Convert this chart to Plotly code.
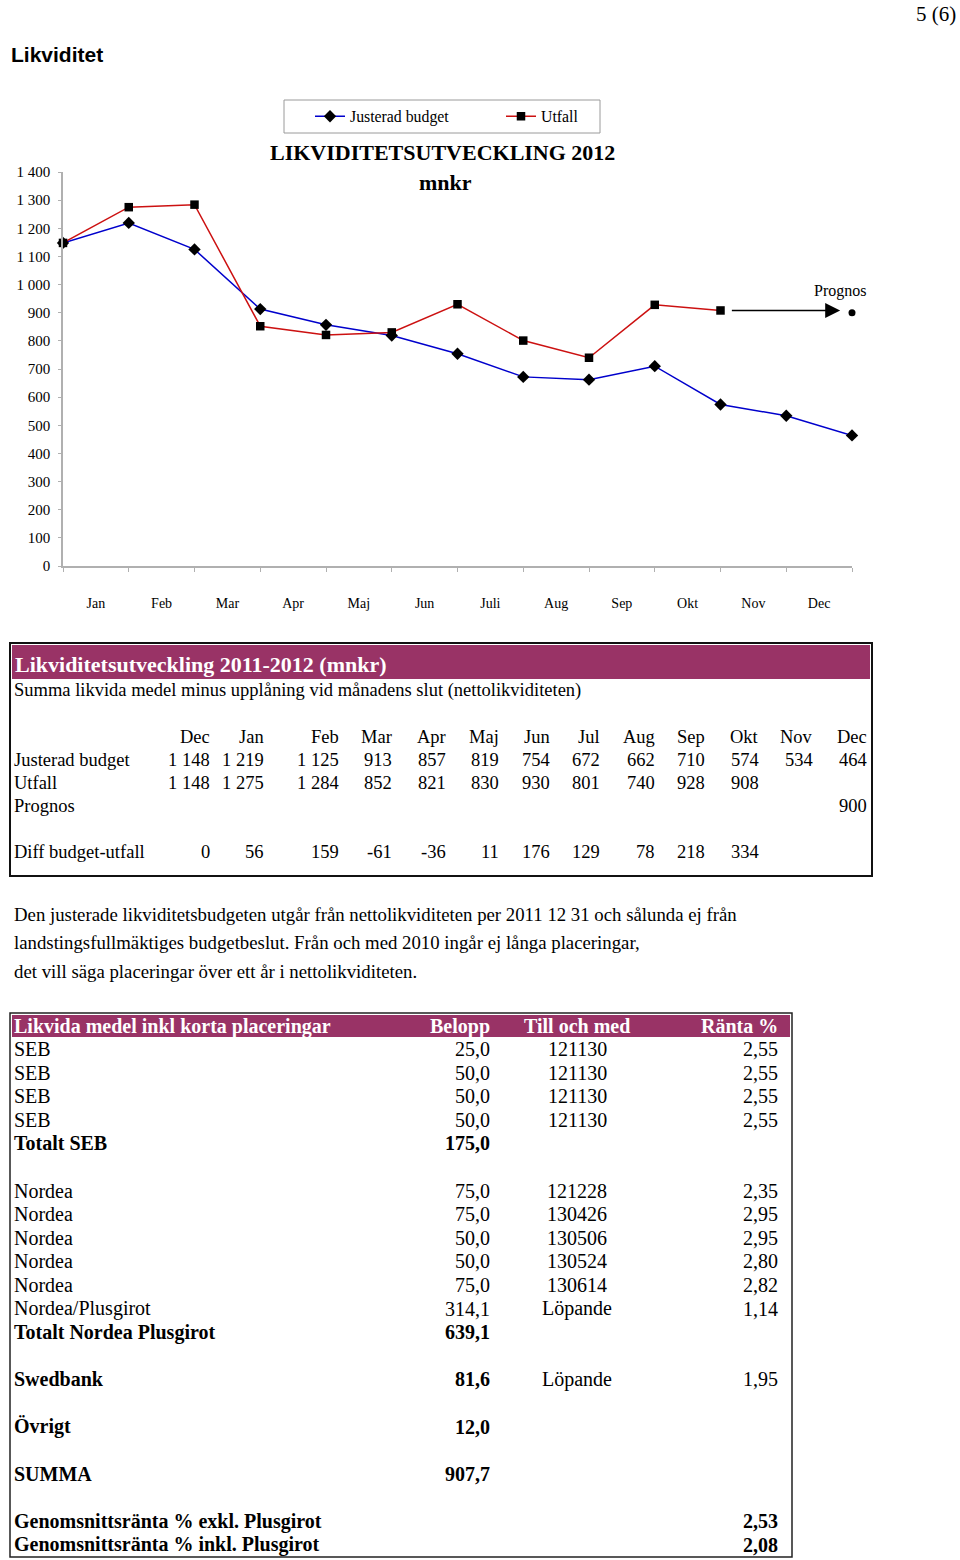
import plotly.graph_objects as go

W, H = 960, 1560
SERIF = "Liberation Serif, Times New Roman, serif"
SANS = "Liberation Sans, Arial, sans-serif"
PURPLE = "#993366"

# ---------------- chart data ----------------
points = list(range(13))  # month-end positions: Dec 2011, Jan .. Dec 2012
month_labels = ["Jan", "Feb", "Mar", "Apr", "Maj", "Jun", "Juli", "Aug", "Sep", "Okt", "Nov", "Dec"]
budget = [1148, 1219, 1125, 913, 857, 819, 754, 672, 662, 710, 574, 534, 464]
utfall = [1148, 1275, 1284, 852, 821, 830, 930, 801, 740, 928, 908]
prognos_index = 12
prognos_value = 900
y_ticks = list(range(0, 1401, 100))

# ---------------- table 1 data ----------------
t1_months = ["Dec", "Jan", "Feb", "Mar", "Apr", "Maj", "Jun", "Jul", "Aug", "Sep", "Okt", "Nov", "Dec"]
t1_budget = [1148, 1219, 1125, 913, 857, 819, 754, 672, 662, 710, 574, 534, 464]
t1_utfall = [1148, 1275, 1284, 852, 821, 830, 930, 801, 740, 928, 908]
t1_prognos = [None] * 12 + [900]
t1_diff = [0, 56, 159, -61, -36, 11, 176, 129, 78, 218, 334]

# ---------------- table 2 data ----------------
t2_names = ["SEB", "SEB", "SEB", "SEB", "Totalt SEB", "",
            "Nordea", "Nordea", "Nordea", "Nordea", "Nordea", "Nordea/Plusgirot", "Totalt Nordea Plusgirot", "",
            "Swedbank", "", "Övrigt", "", "SUMMA", "",
            "Genomsnittsränta % exkl. Plusgirot", "Genomsnittsränta % inkl. Plusgirot"]
t2_belopp = ["25,0", "50,0", "50,0", "50,0", "175,0", "",
             "75,0", "75,0", "50,0", "50,0", "75,0", "314,1", "639,1", "",
             "81,6", "", "12,0", "", "907,7", "", "", ""]
t2_dates = ["121130", "121130", "121130", "121130", "", "",
            "121228", "130426", "130506", "130524", "130614", "Löpande", "", "",
            "Löpande", "", "", "", "", "", "", ""]
t2_rates = ["2,55", "2,55", "2,55", "2,55", "", "",
            "2,35", "2,95", "2,95", "2,80", "2,82", "1,14", "", "",
            "1,95", "", "", "", "", "", "2,53", "2,08"]
t2_bold = [False, False, False, False, True, False,
           False, False, False, False, False, False, True, False,
           True, False, True, False, True, False, True, True]
t2_rate_bold = [False] * 20 + [True, True]


def fmt(v):
    return f"{v:,}".replace(",", " ")


# ---------------- layout helpers (pixel -> paper) ----------------
def px(x):
    return x / W


def py(y):
    return 1 - y / H


annotations = []
shapes = []


def txt(x, y, s, size, anchor="left", bold=False, color="black", family=SERIF):
    annotations.append(dict(
        x=px(x), y=py(y), xref="paper", yref="paper",
        text=f"<b>{s}</b>" if bold else s, showarrow=False,
        xanchor=anchor, yanchor="middle", borderpad=0,
        font=dict(family=family, size=size, color=color)))


def rect(x0, y0, x1, y1, line_color="black", line_width=1, fill=None):
    shapes.append(dict(type="rect", xref="paper", yref="paper",
                       x0=px(x0), x1=px(x1), y0=py(y1), y1=py(y0),
                       line=dict(color=line_color, width=line_width),
                       fillcolor=fill if fill else "rgba(0,0,0,0)", layer="below"))


# ---------------- figure ----------------
fig = go.Figure()
fig.add_trace(go.Scatter(
    x=points, y=budget, name="Justerad budget", mode="lines+markers",
    line=dict(color="#0000CC", width=1.5),
    marker=dict(symbol="diamond", size=9.5, color="black"), cliponaxis=False))
fig.add_trace(go.Scatter(
    x=points[:len(utfall)], y=utfall, name="Utfall", mode="lines+markers",
    line=dict(color="#CC1111", width=1.5),
    marker=dict(symbol="square", size=8.5, color="black"), cliponaxis=False))
fig.add_trace(go.Scatter(
    x=[points[prognos_index]], y=[prognos_value], name="Prognos", mode="markers",
    marker=dict(symbol="circle", size=7, color="black"), showlegend=False, cliponaxis=False))

# arrow to the forecast and its label
last_i = len(utfall) - 1
annotations.append(dict(
    x=points[prognos_index] - 0.18, y=utfall[-1], ax=points[last_i] + 0.15, ay=utfall[-1],
    xref="x", yref="y", axref="x", ayref="y", text="", showarrow=True,
    arrowhead=2, arrowsize=2, arrowwidth=1.5, arrowcolor="black"))
annotations.append(dict(
    x=points[prognos_index] - 0.18, y=prognos_value, xref="x", yref="y",
    text="Prognos", showarrow=False, yshift=22, font=dict(family=SERIF, size=16, color="black")))

# page header
txt(957, 14, "5 (6)", 21, anchor="right")
txt(10, 55, "Likviditet", 21, bold=True, family=SANS)

# chart title + legend box
txt(442, 153, "LIKVIDITETSUTVECKLING 2012", 22, anchor="center", bold=True)
txt(445, 182, "mnkr", 22, anchor="center", bold=True)
rect(284, 100, 600, 133, line_color="#9a9a9a", line_width=1)

# ---------------- table 1 ----------------
rect(10, 643, 872, 876, line_color="#111111", line_width=2)
rect(12, 645, 870, 679, line_color=PURPLE, line_width=0, fill=PURPLE)
txt(14, 664, "Likviditetsutveckling 2011-2012 (mnkr)", 22, bold=True, color="white")
txt(13, 690, "Summa likvida medel minus upplåning vid månadens slut (nettolikviditeten)", 18.5)
col_right = [211, 265, 340, 393, 447, 500, 551, 601, 656, 706, 760, 814, 868]
row_y = {"head": 737, "budget": 760, "utfall": 783, "prognos": 806, "diff": 852}
txt(13, row_y["budget"], "Justerad budget", 18.5)
txt(13, row_y["utfall"], "Utfall", 18.5)
txt(13, row_y["prognos"], "Prognos", 18.5)
txt(13, row_y["diff"], "Diff budget-utfall", 18.5)
for i, m in enumerate(t1_months):
    txt(col_right[i], row_y["head"], m, 18.5, anchor="right")
for i, v in enumerate(t1_budget):
    txt(col_right[i], row_y["budget"], fmt(v), 18.5, anchor="right")
for i, v in enumerate(t1_utfall):
    txt(col_right[i], row_y["utfall"], fmt(v), 18.5, anchor="right")
for i, v in enumerate(t1_prognos):
    if v is not None:
        txt(col_right[i], row_y["prognos"], fmt(v), 18.5, anchor="right")
for i, v in enumerate(t1_diff):
    txt(col_right[i], row_y["diff"], fmt(v), 18.5, anchor="right")

# paragraph
para = ["Den justerade likviditetsbudgeten utgår från nettolikviditeten per 2011 12 31 och sålunda ej från",
        "landstingsfullmäktiges budgetbeslut. Från och med 2010 ingår ej långa placeringar,",
        "det vill säga placeringar över ett år i nettolikviditeten."]
for k, line in enumerate(para):
    txt(13, 914 + k * 28.7, line, 18.8)

# ---------------- table 2 ----------------
rect(10, 1013, 792, 1557, line_color="#222222", line_width=1.5)
rect(12, 1015, 790, 1037, line_color=PURPLE, line_width=0, fill=PURPLE)
hy = 1026
txt(13, hy, "Likvida medel inkl korta placeringar", 20, bold=True, color="white")
txt(491, hy, "Belopp", 20, anchor="right", bold=True, color="white")
txt(577, hy, "Till och med", 20, anchor="center", bold=True, color="white")
txt(779, hy, "Ränta %", 20, anchor="right", bold=True, color="white")
for k in range(len(t2_names)):
    y = 1049 + k * 23.6
    if t2_names[k]:
        txt(13, y, t2_names[k], 20, bold=t2_bold[k])
    if t2_belopp[k]:
        txt(491, y, t2_belopp[k], 20, anchor="right", bold=t2_bold[k])
    if t2_dates[k]:
        txt(577, y, t2_dates[k], 20, anchor="center")
    if t2_rates[k]:
        txt(779, y, t2_rates[k], 20, anchor="right", bold=t2_rate_bold[k])

fig.update_layout(
    template="none",
    width=W, height=H, autosize=False,
    margin=dict(l=0, r=0, t=0, b=0, pad=0),
    paper_bgcolor="white", plot_bgcolor="white",
    font=dict(family=SERIF, size=14, color="black"),
    showlegend=True,
    legend=dict(orientation="h", x=px(310), y=py(116.5), xanchor="left", yanchor="middle",
                bgcolor="rgba(0,0,0,0)", borderwidth=0, entrywidth=146,
                font=dict(family=SERIF, size=15.8, color="black")),
    xaxis=dict(domain=[px(63), px(852)], range=[0, 12], showgrid=False, zeroline=False,
               automargin=False,
               showline=True, linecolor="#b0b0b0", linewidth=1.5,
               tickmode="array", tickvals=[p + 0.5 for p in points[:-1]], ticktext=month_labels,
               ticks="", ticklabelstandoff=23,
               minor=dict(tickmode="array", tickvals=points, ticks="outside", ticklen=4,
                          tickcolor="#b0b0b0", tickwidth=1, showgrid=False),
               tickfont=dict(family=SERIF, size=14, color="black"), fixedrange=True),
    yaxis=dict(domain=[py(566), py(172)], range=[0, 1400], showgrid=False, zeroline=False,
               automargin=False,
               showline=True, linecolor="#b0b0b0", linewidth=1.5,
               tickmode="array", tickvals=y_ticks, ticktext=[fmt(v) for v in y_ticks],
               ticks="outside", ticklen=3, tickcolor="#b0b0b0", ticklabelstandoff=5,
               tickfont=dict(family=SERIF, size=15, color="black"), fixedrange=True),
    annotations=annotations,
    shapes=shapes,
)

fig.write_html("out.html", config={"displayModeBar": False},
               post_script="document.body.style.margin='0';")
